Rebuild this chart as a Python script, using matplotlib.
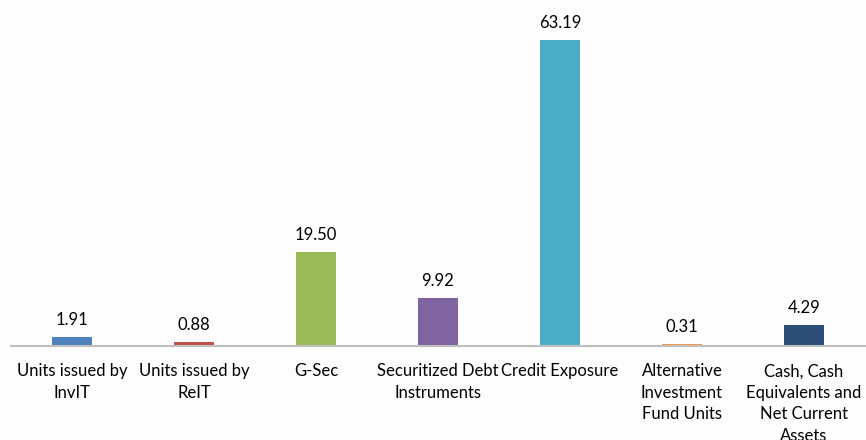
import matplotlib
matplotlib.use("Agg")
import matplotlib.pyplot as plt

categories = ["Units issued by\nInvIT", "Units issued by\nReIT", "G-Sec",
              "Securitized Debt\nInstruments", "Credit Exposure",
              "Alternative\nInvestment\nFund Units",
              "Cash, Cash\nEquivalents and\nNet Current\nAssets"]
values = [1.91, 0.88, 19.50, 9.92, 63.19, 0.31, 4.29]
colors = ["#4F81BD", "#C0504D", "#9BBB59", "#8064A2", "#4BACC6", "#F79646", "#2C4D75"]

plt.rcParams['font.family'] = ['Lato', 'DejaVu Sans']

W, H = 866, 440
fig = plt.figure(figsize=(W/100, H/100), dpi=100, facecolor="#FDFDFD")
# axes: x from 11 to 865 px, y from 346 (bottom) to 7 (top)
left, right = 11, 865
bottom_px, top_px = 346, 7
ax = fig.add_axes([left/W, 1 - bottom_px/H, (right-left)/W, (bottom_px-top_px)/H])
ax.set_facecolor("#FDFDFD")

x = list(range(len(values)))
bars = ax.bar(x, values, width=0.32, color=colors)
ax.set_xlim(-0.5, len(values) - 0.5)
ax.set_ylim(0, (bottom_px - top_px) / 4.84)

for xi, v in zip(x, values):
    ax.annotate(f"{v:.2f}", (xi, v), xytext=(0, 6.5), textcoords="offset points",
                ha="center", va="bottom", fontsize=12, color="#000000")

for s in ["top", "right", "left"]:
    ax.spines[s].set_visible(False)
ax.spines["bottom"].set_color("#BFBFBF")
ax.spines["bottom"].set_linewidth(1.5)
ax.set_yticks([])
ax.set_xticks(x)
ax.set_xticklabels(categories, fontsize=12, linespacing=1.42, va="top")
ax.tick_params(axis="x", length=0, pad=12.5)

fig.savefig("out.png", dpi=100, facecolor=fig.get_facecolor())
